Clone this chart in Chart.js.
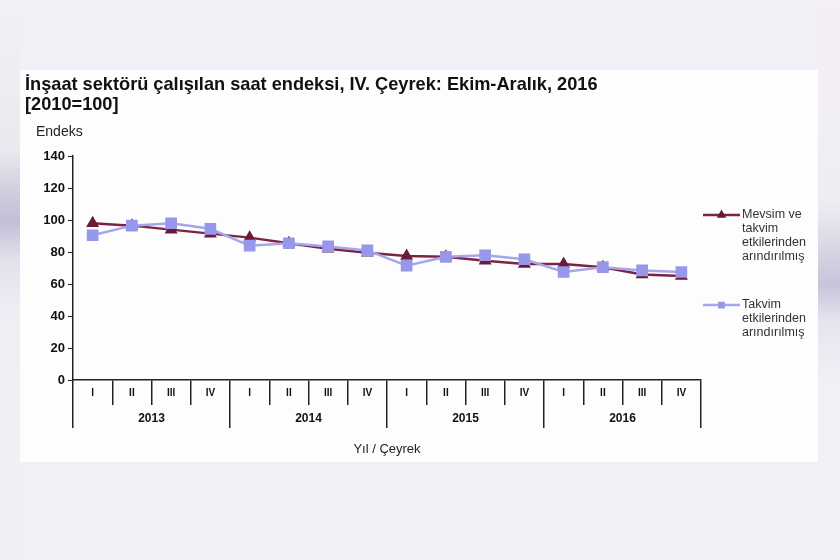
<!DOCTYPE html>
<html>
<head>
<meta charset="utf-8">
<script src="https://cdn.jsdelivr.net/npm/chart.js@4/dist/chart.umd.min.js"></script>
<style>
  html, body { margin: 0; padding: 0; }
  body {
    width: 840px; height: 560px; overflow: hidden;
    background: #f2f0f6;
    font-family: "Liberation Sans", Arial, sans-serif;
  }
  .strip { position: absolute; top: 0; width: 20px; height: 560px; }
  #leftStrip { left: 0; background: linear-gradient(to bottom, #f3f1f6 0px, #ebe8f0 150px, #cdc8db 200px, #c4bfd8 222px, #e4e1ec 260px, #f0eef5 320px, #f2f0f6 560px); }
  #rightStrip { right: 0; width: 22px; background: linear-gradient(to bottom, #f5eff5 0px, #efedf4 200px, #d9d5e3 250px, #c8c3da 285px, #e6e3ee 320px, #f2f0f6 380px, #f3f0f6 560px); }
  #panel {
    position: absolute; left: 20px; top: 70px; width: 798px; height: 392px;
    background: #fdfdfd;
  }
</style>
</head>
<body>
<div class="strip" id="leftStrip"></div>
<div class="strip" id="rightStrip"></div>
<div id="panel"><canvas id="myChart" width="798" height="392"></canvas></div>
<script>
// Çeyrekler ve yıllar
const quarters = ["I", "II", "III", "IV", "I", "II", "III", "IV", "I", "II", "III", "IV", "I", "II", "III", "IV"];
const years = ["2013", "2014", "2015", "2016"];
// Mevsim ve takvim etkilerinden arındırılmış
const seasonalAdj = [98, 96.5, 94, 91.5, 89, 85.5, 82, 79.5, 77.5, 77, 74.5, 72.5, 72.5, 70.5, 66, 65];
// Takvim etkilerinden arındırılmış
const calendarAdj = [90.5, 96.5, 98, 94.5, 84, 85.5, 83.5, 81, 71.5, 77, 78, 75.5, 67.5, 70.5, 68.5, 67.5];
// Y ekseni
const yMin = 0, yMax = 140, yStep = 20;

const legendLines = [
    ["Mevsim ve", "takvim", "etkilerinden", "arındırılmış"],
    ["Takvim", "etkilerinden", "arındırılmış"]
];

const FONT = '"Liberation Sans", Arial, sans-serif';

// Sağdaki lejant ve "Endeks" yazısı
const extras = {
    id: 'extras',
    afterDraw(chart) {
        const c = chart.ctx;
        const area = chart.chartArea;
        c.save();
        c.fillStyle = '#222';
        c.font = '14px ' + FONT;
        c.textBaseline = 'middle';
        c.textAlign = 'left';
        c.fillText('Endeks', area.left - 37, area.top - 24);

        const ys = [area.top + 59, area.top + 149];
        chart.data.datasets.forEach(function (ds, i) {
            const y = ys[i];
            const x0 = area.right + 2, x1 = area.right + 39;
            c.strokeStyle = ds.borderColor;
            c.lineWidth = 2.5;
            c.beginPath();
            c.moveTo(x0, y);
            c.lineTo(x1, y);
            c.stroke();
            c.fillStyle = ds.pointBackgroundColor;
            c.strokeStyle = ds.pointBorderColor;
            Chart.helpers.drawPoint(c, { pointStyle: ds.pointStyle, radius: 3, borderWidth: 1 }, (x0 + x1) / 2, y);
            c.fillStyle = '#333';
            c.font = '12.5px ' + FONT;
            legendLines[i].forEach(function (t, k) {
                c.fillText(t, x1 + 2, y + k * 13.8);
            });
        });
        c.restore();
    }
};

let ctx = document.getElementById('myChart').getContext('2d');
let chart = new Chart(ctx, {
    type: 'line',
    data: {
        labels: quarters,
        datasets: [{
            label: 'Mevsim ve takvim etkilerinden arındırılmış',
            data: seasonalAdj,
            borderColor: '#7b2448',
            backgroundColor: '#6a1a3c',
            pointBackgroundColor: '#6a1a3c',
            pointBorderColor: '#6a1a3c',
            pointStyle: 'triangle',
            pointRadius: 5,
            borderWidth: 2.5,
            order: 1
        }, {
            label: 'Takvim etkilerinden arındırılmış',
            data: calendarAdj,
            borderColor: '#a6a6ea',
            backgroundColor: '#9898ea',
            pointBackgroundColor: '#9898ea',
            pointBorderColor: '#9898ea',
            pointStyle: 'rect',
            pointRadius: 6.5,
            borderWidth: 2.5,
            order: 0
        }]
    },
    options: {
        responsive: false,
        animation: false,
        layout: { padding: { left: 5, right: 117, top: 0, bottom: 5 } },
        plugins: {
            legend: { display: false },
            tooltip: { enabled: false },
            title: {
                display: true,
                align: 'start',
                text: ['İnşaat sektörü çalışılan saat endeksi, IV. Çeyrek: Ekim-Aralık, 2016', '[2010=100]'],
                color: '#111',
                font: { family: FONT, size: 18.2, weight: 'bold', lineHeight: 1.1 },
                padding: { top: 5, bottom: 41 }
            }
        },
        scales: {
            y: {
                min: yMin,
                max: yMax,
                afterFit(scale) { scale.width = 48; },
                ticks: {
                    stepSize: yStep,
                    color: '#111',
                    padding: 3,
                    font: { family: FONT, size: 13, weight: 'bold' }
                },
                grid: { drawOnChartArea: false, tickLength: 5, color: '#222' },
                border: { color: '#222', width: 1.5 }
            },
            x: {
                offset: true,
                ticks: {
                    autoSkip: false,
                    maxRotation: 0,
                    color: '#111',
                    padding: -18,
                    font: { family: FONT, size: 10, weight: 'bold' }
                },
                grid: { offset: true, drawOnChartArea: false, tickLength: 25, color: '#222', lineWidth: 1.5 },
                border: { color: '#222', width: 1.5 },
                // boş başlık: etiketlerin kırpılmaması için kutuyu büyütür
                title: { display: true, text: ' ', font: { size: 10 }, padding: { top: 6, bottom: 6 } }
            },
            x2: {
                type: 'category',
                labels: years,
                position: 'bottom',
                offset: true,
                ticks: {
                    autoSkip: false,
                    maxRotation: 0,
                    color: '#111',
                    padding: -16.5,
                    font: { family: FONT, size: 12, weight: 'bold' }
                },
                grid: { offset: true, drawOnChartArea: false, tickLength: 23, color: '#222', lineWidth: 1.5 },
                border: { display: false },
                title: {
                    display: true,
                    text: 'Yıl / Çeyrek',
                    color: '#222',
                    font: { family: FONT, size: 13 },
                    padding: { top: 32, bottom: 0 }
                }
            }
        }
    },
    plugins: [extras]
});
</script>
</body>
</html>
